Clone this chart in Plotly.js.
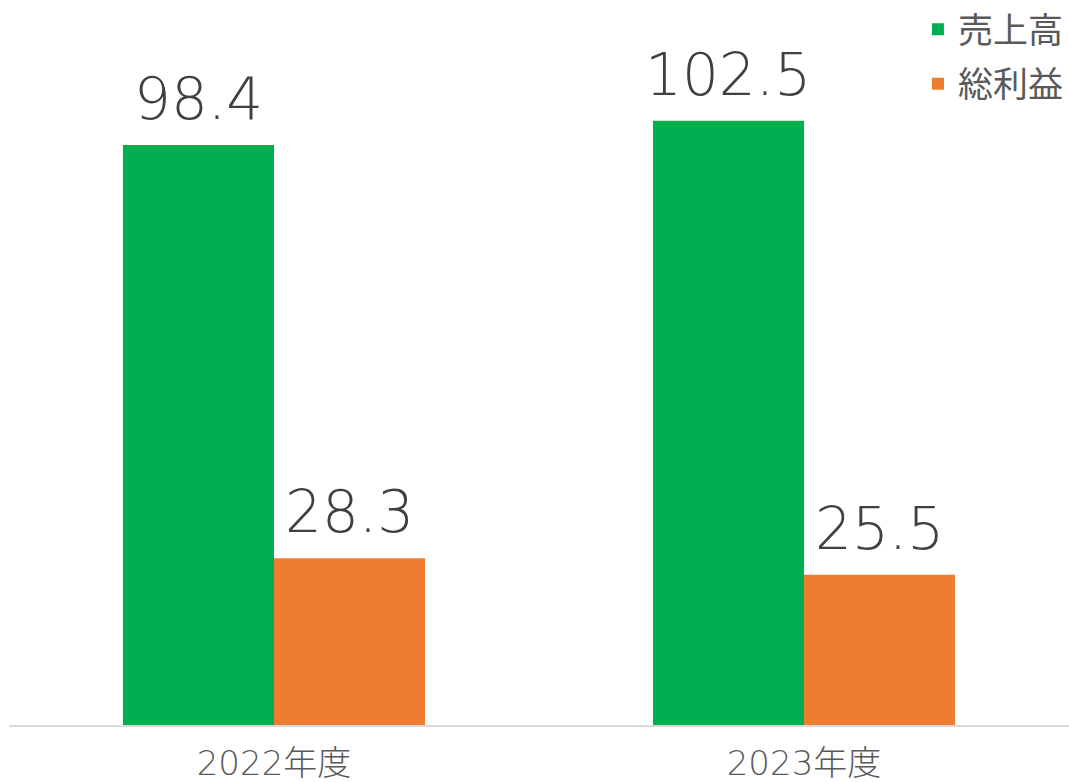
<!DOCTYPE html>
<html>
<head>
<meta charset="utf-8">
<script src="https://cdn.plot.ly/plotly-3.0.1.min.js"></script>
<style>html,body{margin:0;padding:0;background:#fff;}#chart{width:1069px;height:782px;}</style>
</head>
<body>
<div id="chart"></div>
<script>
const categories = ["2022年度", "2023年度"];
const seriesNames = ["売上高", "総利益"];
const sales = [98.4, 102.5];
const grossProfit = [28.3, 25.5];
const seriesColors = ["#00B050", "#ED7D31"];

const font = "'Noto Sans CJK JP', 'Noto Sans', sans-serif";
const numFont = "'DejaVu Sans', 'Noto Sans CJK JP', sans-serif";
const BARGAP = 0.43;

const seriesList = [sales, grossProfit];
const traces = seriesList.map((vals, i) => ({
  type: "bar",
  name: seriesNames[i],
  legendgroup: "g" + i,
  x: categories,
  y: vals,
  marker: {color: seriesColors[i], line: {width: 0}},
  hoverinfo: "skip"
}));

// value labels placed above each bar, offset within the group from the bar geometry
const barW = (1 - BARGAP) / seriesList.length;
const annotations = [];
seriesList.forEach((vals, i) => {
  vals.forEach((v, k) => {
    annotations.push({
      x: k + (i - (seriesList.length - 1) / 2) * barW,
      y: v,
      xref: "x", yref: "y",
      text: v.toFixed(1),
      showarrow: false,
      xanchor: "center", yanchor: "bottom",
      yshift: 10,
      font: {family: numFont, size: 58, color: "#404040", weight: 200}
    });
  });
});

const layout = {
  width: 1069, height: 782,
  margin: {l: 9, r: 0, t: 0, b: 57, pad: 0, autoexpand: false},
  paper_bgcolor: "#fff", plot_bgcolor: "#fff",
  barmode: "group",
  bargap: BARGAP,
  bargroupgap: 0,
  font: {family: font, color: "#595959"},
  xaxis: {
    showline: true, linecolor: "#D9D9D9", linewidth: 2,
    ticks: "", ticklabelstandoff: 7,
    tickfont: {family: numFont, size: 34, color: "#595959", weight: 200},
    fixedrange: true
  },
  yaxis: {
    range: [0, 123], visible: false, showgrid: false, zeroline: false, fixedrange: true
  },
  annotations: annotations,
  showlegend: true,
  legend: {
    x: 0.8575, xanchor: "left", y: 1.0, yanchor: "top",
    font: {family: font, size: 35, color: "#595959"},
    itemwidth: 30, tracegroupgap: 6, bgcolor: "rgba(0,0,0,0)",
    itemclick: false, itemdoubleclick: false
  }
};

Plotly.newPlot("chart", traces, layout, {displayModeBar: false, staticPlot: true});
</script>
</body>
</html>
